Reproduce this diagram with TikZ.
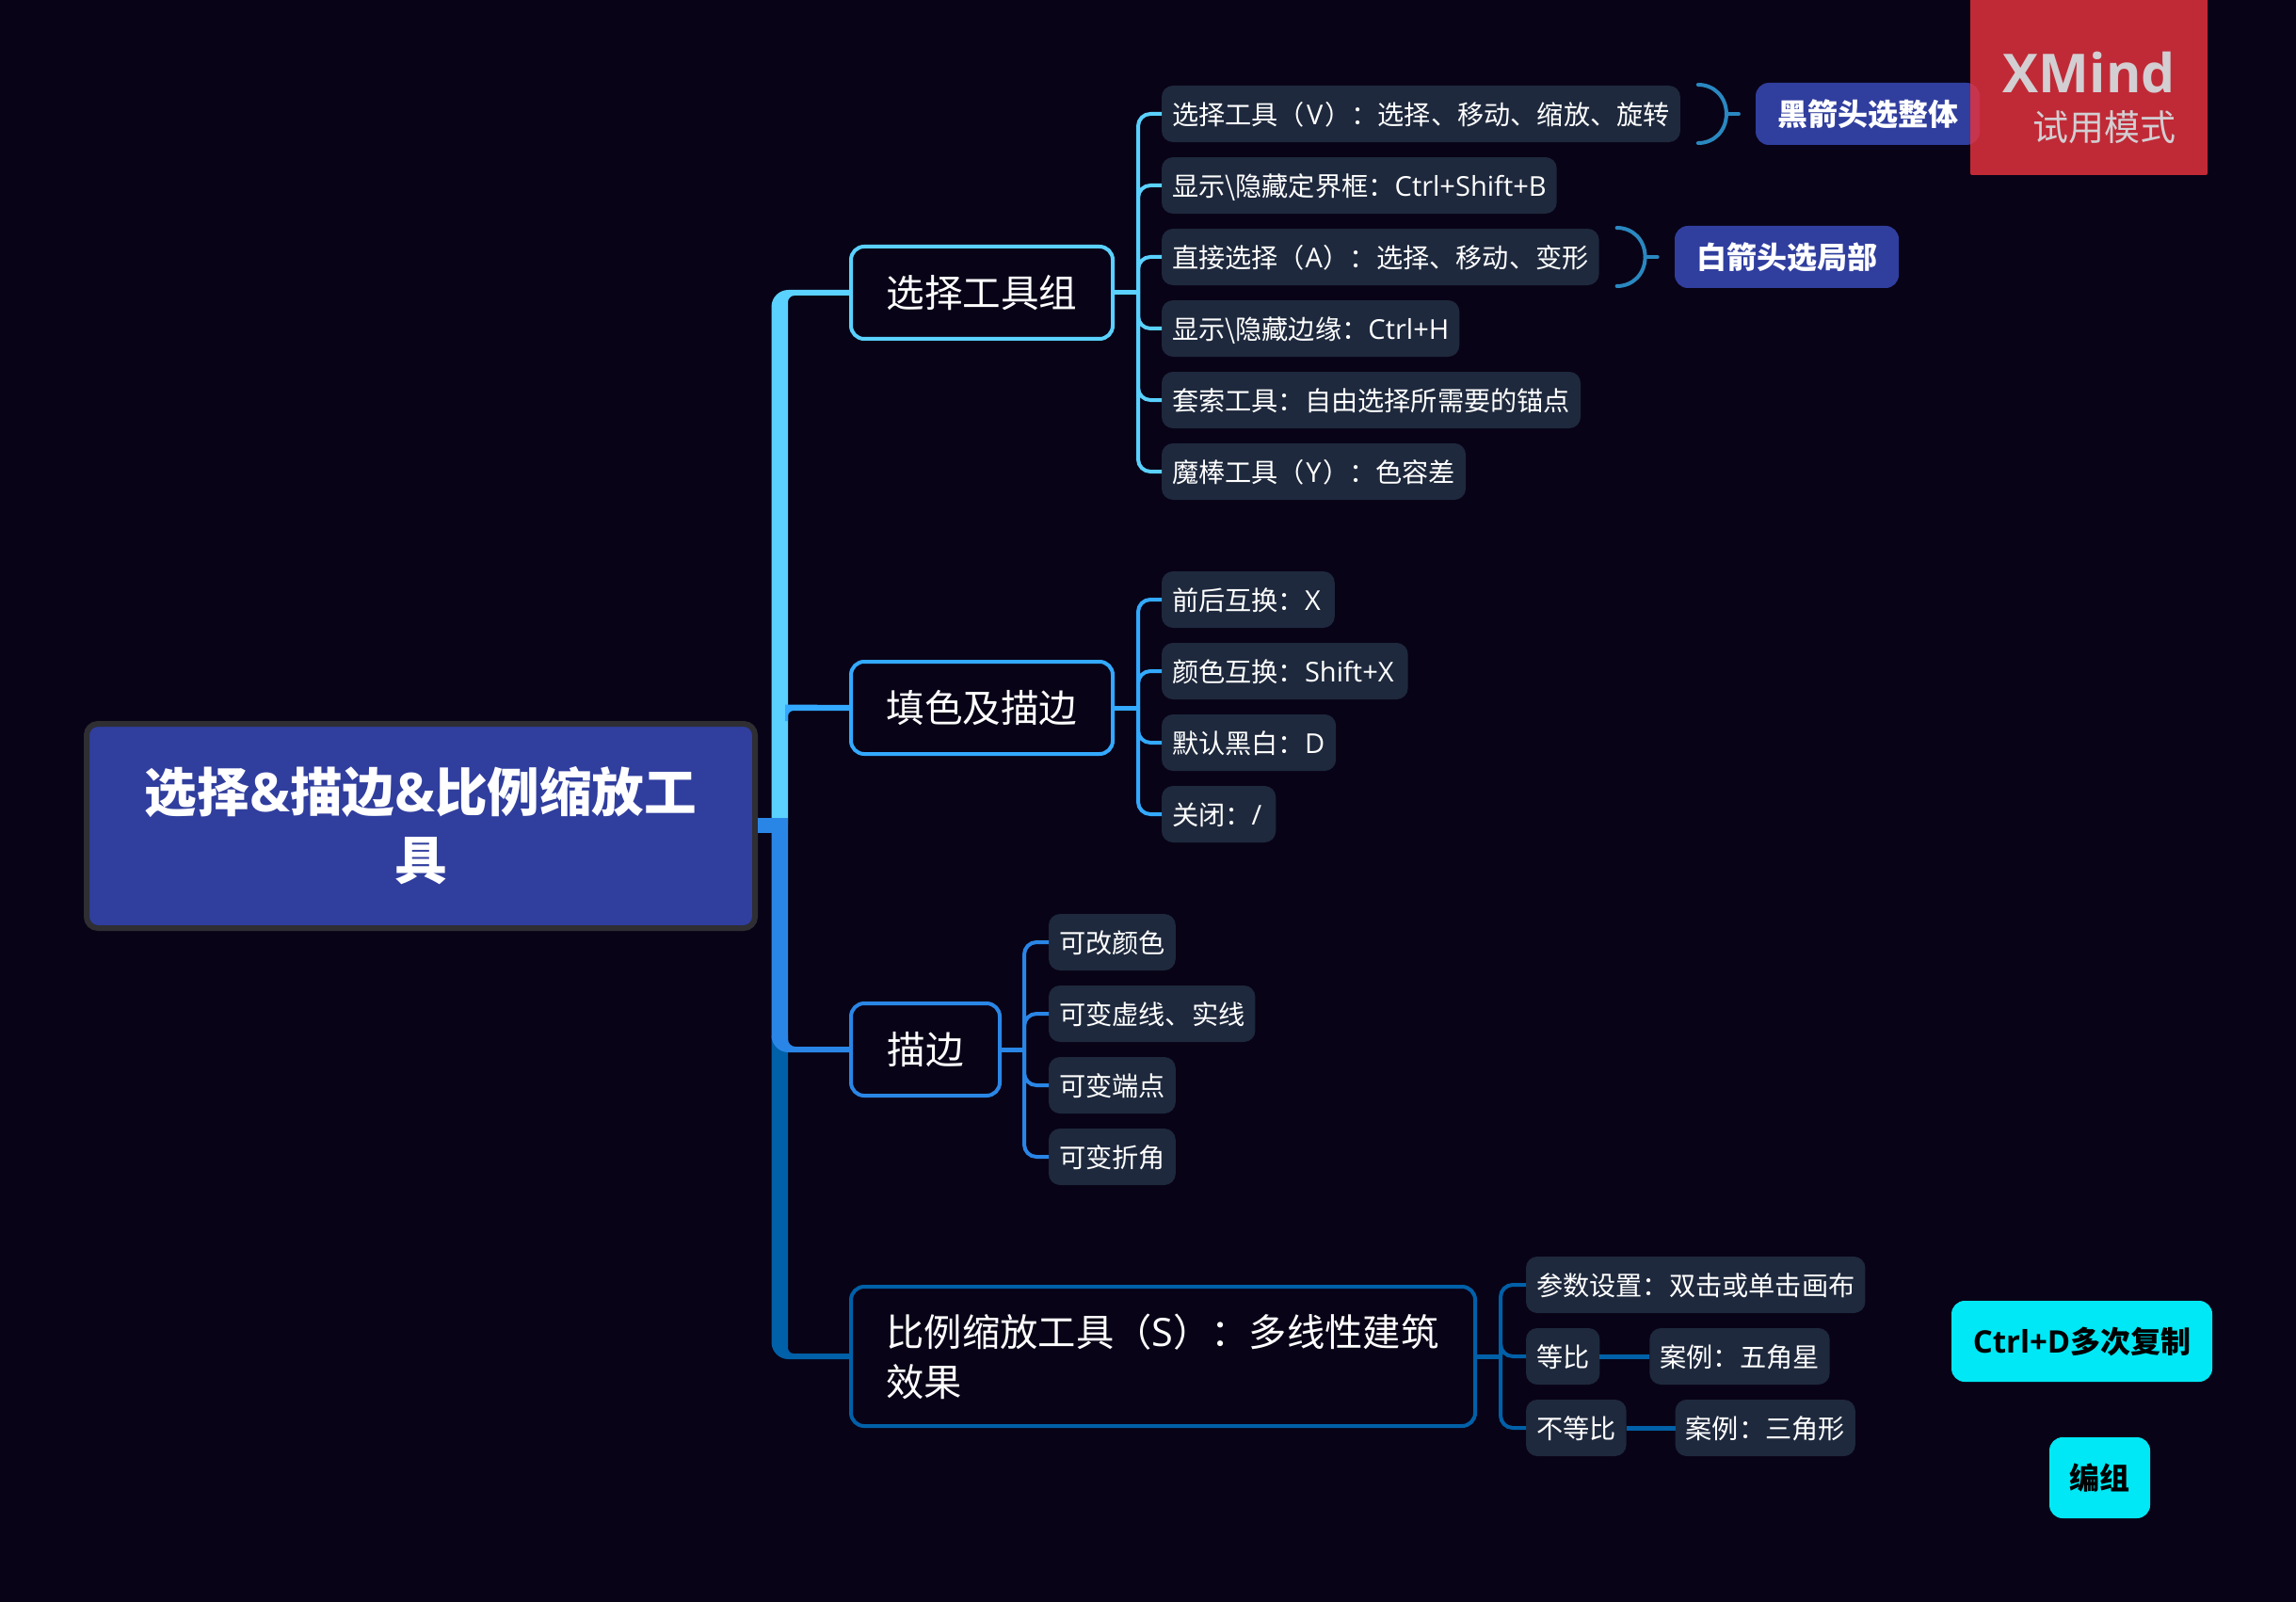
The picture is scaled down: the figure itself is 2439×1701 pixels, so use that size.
\documentclass[tikz,border=0pt]{standalone}
\usepackage{fontspec}
\setmainfont{Noto Sans CJK SC}
\newfontfamily\latinfont[Scale=1.03]{Open Sans}
\newcommand{\en}[1]{{\latinfont #1}}
\newcommand{\pl}[2]{\hspace{#1}\en{#2}\hspace{#1}}
\usetikzlibrary{matrix,positioning}

\definecolor{pagebg}{HTML}{090317}
\definecolor{leafbg}{HTML}{1E293D}
\definecolor{rootbg}{HTML}{303E9E}
\definecolor{rootrim}{HTML}{2E2E33}
\definecolor{skyline}{HTML}{5AD1FF}
\definecolor{azure}{HTML}{33A9FF}
\definecolor{midblue}{HTML}{2A86E6}
\definecolor{deepblue}{HTML}{0060A8}
\definecolor{braceblue}{HTML}{2A88C0}
\definecolor{trialred}{HTML}{E6323D}
\definecolor{trialtext}{HTML}{D2CED2}
\definecolor{aqua}{HTML}{00E8F5}

\tikzset{
  rootbox/.style={draw=rootrim, fill=rootbg, line width=3pt, rounded corners=6pt, outer sep=0pt,
    minimum width=355pt, minimum height=108.5pt, align=center, text=white,
    font=\fontsize{27.8}{36}\selectfont\bfseries},
  grpbox/.style={draw=#1, fill=pagebg, line width=2pt, rounded corners=7pt, outer sep=0pt, anchor=west,
    minimum height=49pt, inner xsep=18.75pt, inner ysep=0pt, text=white,
    font=\fontsize{20.3}{26.5}\selectfont},
  leaf/.style={fill=leafbg, rounded corners=6pt, outer sep=0pt, minimum height=30pt,
    text height=12.4pt, text depth=1pt,
    inner xsep=5.5pt, inner ysep=0pt, text=white, font=\fontsize{14.1}{16}\selectfont},
  leafs/.style={matrix of nodes, nodes={leaf, anchor=west}, row sep=8pt, inner sep=0pt, outer sep=0pt, anchor=west},
  tipbox/.style={fill=rootbg, rounded corners=7pt, outer sep=0pt, anchor=west, minimum height=33pt,
    inner xsep=11.5pt, inner ysep=0pt, text=white, font=\fontsize{16}{18}\selectfont\bfseries},
  floatbox/.style={fill=aqua, rounded corners=7pt, outer sep=0pt, minimum height=43pt,
    inner xsep=10.75pt, inner ysep=0pt, text=black, font=\fontsize{16}{18}\selectfont\bfseries},
  twig/.style={line width=2pt, rounded corners=6.5pt, color=#1, to path={|- (\tikztotarget)}},
  stem/.style={line width=2.5pt, color=#1},
  brace/.style={line width=2pt, line cap=round, color=braceblue},
}

\newcommand{\bracetip}[1]{
  \draw[brace] ([shift={(19,-31)}]#1.east) .. controls ([shift={(36,-31)}]#1.east) and ([shift={(49,-18)}]#1.east) .. ([shift={(49,0)}]#1.east)
    .. controls ([shift={(49,18)}]#1.east) and ([shift={(36,31)}]#1.east) .. ([shift={(19,31)}]#1.east);
  \draw[brace] ([shift={(49,0)}]#1.east) -- ([shift={(62,0)}]#1.east);
}

\begin{document}
\begin{tikzpicture}[x=0.5pt,y=-0.5pt]
  \useasboundingbox (0,0) rectangle (2439,1701);
  \fill[pagebg] (-5,-5) rectangle (2445,1706);

  \node[rootbox] (root) at (447,877.5) {\raisebox{2pt}{选择\en{\&}描边\en{\&}比例缩放工}\\\raisebox{2pt}{具}};

  \node[grpbox=skyline] (grp1) at (904,311) {选择工具组};
  \node[grpbox=azure] (grp2) at (904,752) {填色及描边};
  \node[grpbox=midblue, minimum width=79pt] (grp3) at (904,1115) {描边};
  \node[grpbox=deepblue, text width=294pt, minimum height=74pt, font=\fontsize{20.15}{26.5}\selectfont] (grp4) at (904,1441)
    {比例缩放工具（\en{S}）：多线性建筑\\效果};

  \fill[deepblue] (819.5,1100) [rounded corners=9pt] -- (819.5,1444) [sharp corners] -- ([yshift=-1.5pt]grp4.west)
    -- ([yshift=1.5pt]grp4.west) [rounded corners=3pt] -- (837,1438) [sharp corners] -- (837,1100) -- cycle;
  \fill[midblue] (819.5,876) [rounded corners=9pt] -- (819.5,1118) [sharp corners] -- ([yshift=-1.5pt]grp3.west)
    -- ([yshift=1.5pt]grp3.west) [rounded corners=4pt] -- (837,1112) [sharp corners] -- (837,876) -- cycle;
  \fill[skyline] (819.5,876) [rounded corners=9pt] -- (819.5,308) [sharp corners] -- ([yshift=1.5pt]grp1.west)
    -- ([yshift=-1.5pt]grp1.west) [rounded corners=3.5pt] -- (837,314) [sharp corners] -- (837,876) -- cycle;
  \fill[azure] (834,748.5) -- ([yshift=1.5pt]grp2.west) -- ([yshift=-1.5pt]grp2.west) [rounded corners=3pt]
    -- (837,755) [sharp corners] -- (837,766) -- (834,766) -- cycle;
  \fill[midblue] ([shift={(3,-9)}]root.east) rectangle (837,885);

  \matrix (sel) [leafs] at (1234,311)
  {
    选择工具（\pl{1pt}{V}）：选择、移动、缩放、旋转 \\
    显示\textbackslash 隐藏定界框：\en{Ctrl+Shift+B} \\
    直接选择（\pl{.3pt}{A}）：选择、移动、变形 \\
    显示\textbackslash 隐藏边缘：\en{Ctrl+H} \\
    套索工具：自由选择所需要的锚点 \\
    魔棒工具（\pl{.7pt}{Y}）：色容差 \\
  };
  \matrix (col) [leafs] at (1234,751)
  {
    前后互换：\en{X}\hspace{2pt} \\
    颜色互换：\en{Shift+X}\hspace{2pt} \\
    默认黑白：\en{D}\hspace{.5pt} \\
    关闭：\en{/}\hspace{2pt} \\
  };
  \matrix (pen) [leafs] at (1114,1115)
  {
    可改颜色 \\
    可变虚线、实线 \\
    可变端点 \\
    可变折角 \\
  };
  \matrix (sca) [leafs] at (1621,1441)
  {
    参数设置：双击或单击画布 \\
    等比 \\
    不等比 \\
  };
  \node[leaf, right=26.5pt of sca-2-1] (same) {案例：五角星};
  \node[leaf, right=26pt of sca-3-1] (diff) {案例：三角形};

  \coordinate (hub1) at (1209,311);
  \coordinate (hub2) at (1209,751);
  \coordinate (hub3) at (1088,1115);
  \coordinate (hub4) at (1594,1441);

  \draw[stem=skyline] (grp1.east) -- (hub1);
  \draw[stem=azure] (grp2.east) -- (grp2.east -| hub2);
  \draw[stem=midblue] (grp3.east) -- (hub3);
  \draw[stem=deepblue] (grp4.east) -- (hub4);
  \draw[stem=deepblue] (sca-2-1.east) -- (same.west);
  \draw[stem=deepblue] (sca-3-1.east) -- (diff.west);

  \path[twig=skyline]
  (hub1) edge (sel-1-1.west)
         edge (sel-2-1.west)
         edge (sel-3-1.west)
         edge (sel-4-1.west)
         edge (sel-5-1.west)
         edge (sel-6-1.west)
  ;
  \path[twig=azure]
  (hub2) edge (col-1-1.west)
         edge (col-2-1.west)
         edge (col-3-1.west)
         edge (col-4-1.west)
  ;
  \path[twig=midblue]
  (hub3) edge (pen-1-1.west)
         edge (pen-2-1.west)
         edge (pen-3-1.west)
         edge (pen-4-1.west)
  ;
  \path[twig=deepblue]
  (hub4) edge (sca-1-1.west)
         edge (sca-2-1.west)
         edge (sca-3-1.west)
  ;

  \bracetip{sel-1-1}
  \bracetip{sel-3-1}
  \node[tipbox] (tipblack) at (1865,121) {黑箭头选整体};
  \node[tipbox] (tipwhite) at (1779,273) {白箭头选局部};

  \node[floatbox, minimum width=138.5pt] (copy) at (2211.5,1425) {\en{Ctrl+D}多次复制};
  \node[floatbox] (group) at (2230.5,1570) {编组};

  \fill[trialred, fill opacity=.83, rounded corners=1pt] (2093,-6) rectangle (2345,186);
  \node[anchor=east, text=trialtext, inner sep=0pt, font=\fontsize{27.7}{32}\selectfont\bfseries\latinfont] (xmind) at (2311,77) {XMind};
  \node[anchor=east, text=trialtext, inner sep=0pt, font=\fontsize{19}{20}\selectfont] (trial) at (2312,135) {试用模式};
\end{tikzpicture}
\end{document}
